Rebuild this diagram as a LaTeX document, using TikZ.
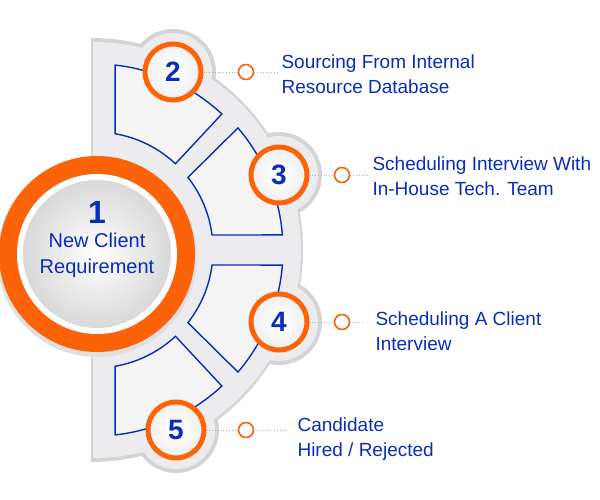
\documentclass[tikz,border=0pt]{standalone}
\usepackage{fontspec}
\setmainfont{Liberation Sans}
\definecolor{stepOrange}{RGB}{252,98,8}
\definecolor{stepBlue}{RGB}{10,45,185}
\definecolor{fanGrey}{RGB}{236,236,238}
\definecolor{fanEdge}{RGB}{212,212,215}
\tikzset{
  step circle/.style={circle,draw=stepOrange,line width=5pt,inner color=white,outer color=gray!12,
    minimum size=56pt,font=\fontsize{28}{28}\selectfont\bfseries,text=stepBlue},
  dot ring/.style={circle,draw=stepOrange,line width=1.6pt,fill=white,minimum size=15pt,inner sep=0pt},
  step text/.style={anchor=west,align=left,text=stepBlue,font=\fontsize{19}{25}\selectfont},
  sector/.style={draw=stepBlue,line width=1.4pt,fill=fanGrey!60!white},
  leader/.style={draw=gray!60,dotted,line width=0.8pt}
}
\begin{document}
\begin{tikzpicture}[x=1pt,y=-1pt]
    \useasboundingbox (0,0) rectangle (600,500);
    % background fan with bumps
    \begin{scope}[shift={(95,250)},yscale=-1]
      \fill[fanEdge] (-4,212) arc[start angle=90,end angle=-90,radius=212] -- cycle;
      \fill[fanEdge] (-4,212) rectangle (0,-212);
    \end{scope}
    \foreach \px/\py in {173/72,279/175,279/322,176/430}
      \fill[fanEdge] (\px,\py) circle (43);
    \begin{scope}[shift={(95,250)},yscale=-1]
      \fill[fanGrey] (-2,208) arc[start angle=90,end angle=-90,radius=208] -- cycle;
    \end{scope}
    \foreach \px/\py in {173/72,279/175,279/322,176/430}
      \fill[fanGrey] (\px,\py) circle (39);
    % sectors, upper half then mirrored
    \foreach \s in {-1,1}{
      \begin{scope}[shift={(95,250)},yscale=\s]
        \path[sector] (83.8:186) arc[start angle=83.8,end angle=47,radius=186] -- (47:118)
          arc[start angle=47,end angle=80.2,radius=118] -- cycle;
        \path[sector] (40.5:188) -- (38:118) arc[start angle=38,end angle=7.3,radius=118]
          -- (4.6:188) arc[start angle=4.6,end angle=40.5,radius=188] -- cycle;
      \end{scope}
    }
    % main circle
    \fill[gray!25] (97,257) circle (100);
    \fill[stepOrange] (97,254) circle (98);
    \fill[white] (97,254) circle (80);
    \shade[inner color=white,outer color=gray!30] (97,254) circle (74);
    \node[align=center,text=stepBlue,font=\fontsize{20}{26}\selectfont] (n1) at (97,240)
      {{\fontsize{32}{32}\selectfont\bfseries 1}\\[-2pt]New Client\\Requirement};
    % steps
    \node[step circle] (s2) at (173,72) {2};
    \node[step circle] (s3) at (279,175) {3};
    \node[step circle] (s4) at (279,322) {4};
    \node[step circle] (s5) at (176,430) {5};
    \node[dot ring] (r2) at (246,72) {};
    \node[dot ring] (r3) at (342,175) {};
    \node[dot ring] (r4) at (342,322) {};
    \node[dot ring] (r5) at (246,430) {};
    \foreach \i in {2,...,5}
      \draw[leader] (s\i) -- (r\i);
    \node[step text] (t2) at (278,74) {Sourcing From Internal\\Resource Database};
    \node[step text] (t3) at (369,176) {Scheduling Interview With\\In-House Tech. Team};
    \node[step text] (t4) at (372,331) {Scheduling A Client\\Interview};
    \node[step text] (t5) at (294,439) {Candidate\\Hired / Rejected};
    \draw[leader] (r2) -- (t2.west |- r2);
    \draw[leader] (r3) -- (t3.west |- r3);
    \draw[leader] (r4) -- ++(20,0);
    \draw[leader] (r5) -- ++(40,0);
\end{tikzpicture}
\end{document}
